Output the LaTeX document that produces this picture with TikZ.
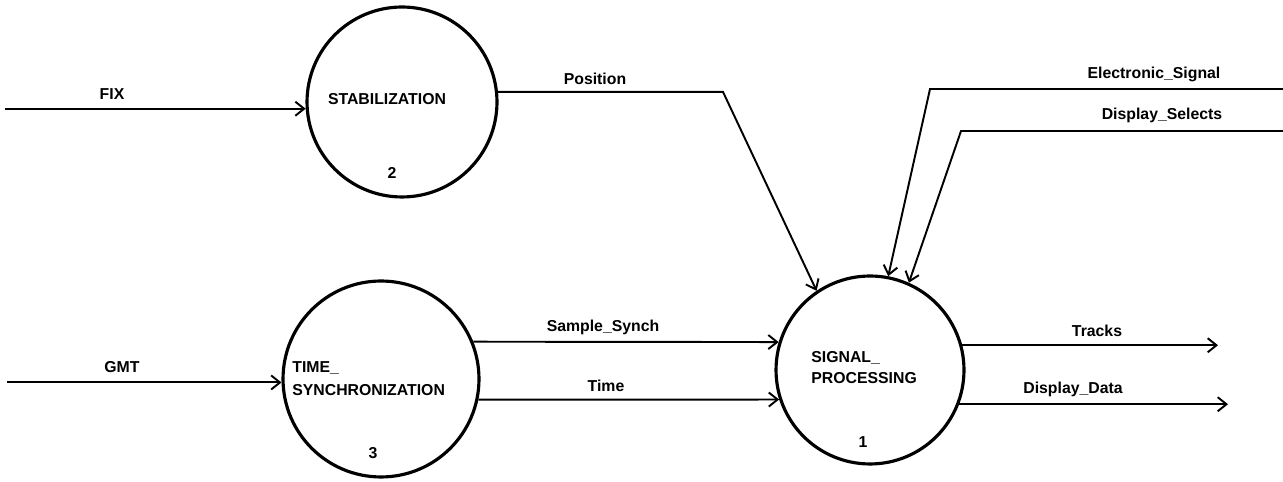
\documentclass[tikz,border=0pt]{standalone}
\usepackage{fontspec}
\setmainfont{Liberation Sans}
\usetikzlibrary{arrows.meta}
\begin{document}
\begin{tikzpicture}[x=0.02cm,y=0.02cm,
  proc/.style={circle,draw,line width=1.8pt,inner sep=0pt},
  flow/.style={line width=1.1pt,-{Straight Barb[length=5pt,width=8pt,line width=1.1pt]}},
  lbl/.style={font=\fontsize{9}{13}\selectfont\bfseries,inner sep=0pt},
]
\useasboundingbox (0,0) rectangle (1283,482);

% processes
\node[proc,minimum size=3.8cm]  (stab)  at (402,380) {};
\node[proc,minimum size=3.92cm] (tsync) at (381,103) {};
\node[proc,minimum size=3.76cm] (sig)   at (870,112) {};

% process names and numbers
\node[lbl] (stabname) at (387,383) {STABILIZATION};
\node[lbl] (stabnum)  at (392,309) {2};
\node[lbl,anchor=west,align=left] (tsyncname) at (292,103.5) {TIME\_\\SYNCHRONIZATION};
\node[lbl] (tsyncnum) at (373,29) {3};
\node[lbl,anchor=west,align=left,font=\fontsize{9}{12}\selectfont\bfseries] (signame) at (811,114.5) {SIGNAL\_\\PROCESSING};
\node[lbl] (signum) at (863,40) {1};

% free ends and bends
\coordinate (fixin) at (5,0);
\coordinate (gmtin) at (7,0);
\coordinate (poscorner) at (723,0);
\coordinate (esin) at (1283,393);
\coordinate (escorner) at (930,393);
\coordinate (dsin) at (1283,351);
\coordinate (dscorner) at (961,351);
\coordinate (tracksout) at (1218,0);
\coordinate (ddout) at (1228,0);

% flows
\draw[flow] (stab.184 -| fixin) -- (stab.184);
\draw[flow] (tsync.182 -| gmtin) -- (tsync.182);
\draw[flow] (stab.6) -- (stab.6 -| poscorner) -- (sig.124);
\draw[flow] (esin) -- (escorner) -- (sig.79);
\draw[flow] (dsin) -- (dscorner) -- (sig.66);
\draw[flow] (tsync.22) -- (sig.163);
\draw[flow] (tsync.-12) -- (sig.198);
\draw[flow] (sig.15) -- (sig.15 -| tracksout);
\draw[flow] (sig.-21) -- (sig.-21 -| ddout);

% flow names
\node[lbl] (fixlbl) at (112,388) {FIX};
\node[lbl] (gmtlbl) at (122,115) {GMT};
\node[lbl] (poslbl) at (595,403) {Position};
\node[lbl] (eslbl) at (1154,408) {Electronic\_Signal};
\node[lbl] (dslbl) at (1162,367) {Display\_Selects};
\node[lbl] (sslbl) at (603,155) {Sample\_Synch};
\node[lbl] (timelbl) at (606,96) {Time};
\node[lbl] (trlbl) at (1097,151) {Tracks};
\node[lbl] (ddlbl) at (1073,93) {Display\_Data};
\end{tikzpicture}
\end{document}
